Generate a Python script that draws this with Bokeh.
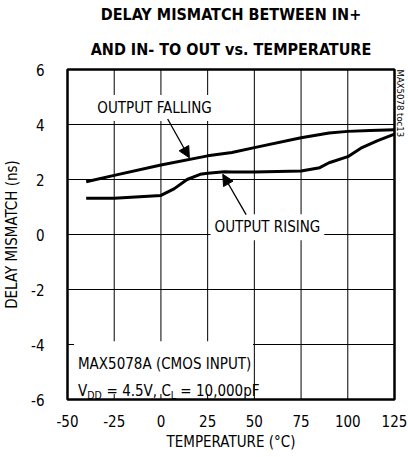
import math
from bokeh.plotting import figure
from bokeh.models import Range1d, FixedTicker, Label, Arrow, NormalHead, BoxAnnotation, Title
from bokeh.embed import file_html
from bokeh.resources import INLINE

# ---- data ----
temp_fall = [-40, -25, 0, 25, 38, 50, 75, 90, 100, 112, 125]
delay_fall = [1.92, 2.15, 2.53, 2.86, 2.98, 3.16, 3.52, 3.69, 3.75, 3.78, 3.81]

temp_rise = [-40, -25, 0, 7, 14, 21, 25, 34, 38, 50, 75, 85, 90, 100, 107, 116, 125]
delay_rise = [1.32, 1.32, 1.42, 1.66, 2.00, 2.19, 2.23, 2.28, 2.27, 2.27, 2.31, 2.43, 2.61, 2.83, 3.14, 3.41, 3.65]

x_ticks = [-50, -25, 0, 25, 50, 75, 100, 125]
y_ticks = [-6, -4, -2, 0, 2, 4, 6]

title_line1 = "DELAY MISMATCH BETWEEN IN+"
title_line2 = "AND IN- TO OUT vs. TEMPERATURE"
x_label = "TEMPERATURE (°C)"
y_label = "DELAY MISMATCH (ns)"
side_code = "MAX5078 toc13"

FONT = "'DejaVu Sans Condensed', 'Liberation Sans'"

X0, X1 = -50, 125
Y0, Y1 = -6, 6

p = figure(frame_width=327, frame_height=330, output_backend="svg", toolbar_location=None,
           x_range=Range1d(X0, X1), y_range=Range1d(Y0, Y1),
           min_border_left=66, min_border_right=14, min_border_bottom=54, min_border_top=68)

# two centred title lines (the later-added title sits closer to the frame)
p.title.text = title_line1
p.title.align = "center"
p.title.text_font = FONT
p.title.text_font_size = "16px"
p.title.text_font_style = "bold"
p.title.text_color = "black"
p.title.standoff = 5
p.add_layout(Title(text=title_line2, align="center", text_font=FONT, text_font_size="16px",
                   text_font_style="bold", text_color="black", standoff=22), "above")

# side reference code in the right margin
p.add_layout(Title(text=side_code, align="left", text_font=FONT, text_font_size="9.5px",
                   text_font_style="normal", text_color="black", standoff=0), "right")

p.outline_line_color = "black"
p.outline_line_width = 2.5
p.outline_line_alpha = 1.0

p.grid.grid_line_color = None

# grid lines drawn from the tick arrays
p.segment(x0=x_ticks, y0=[Y0] * len(x_ticks), x1=x_ticks, y1=[Y1] * len(x_ticks),
          line_color="black", line_width=1)
p.segment(x0=[X0] * len(y_ticks), y0=y_ticks, x1=[X1] * len(y_ticks), y1=y_ticks,
          line_color="black", line_width=1)

p.xaxis.ticker = FixedTicker(ticks=x_ticks)
p.yaxis.ticker = FixedTicker(ticks=y_ticks)
p.xaxis.major_label_overrides = {t: str(t) for t in x_ticks}
p.yaxis.major_label_overrides = {t: str(t) for t in y_ticks}

for ax in (p.xaxis[0], p.yaxis[0]):
    ax.axis_line_color = None
    ax.major_tick_line_color = None
    ax.minor_tick_line_color = None
    ax.major_label_text_font = FONT
    ax.major_label_text_font_size = "15px"
    ax.major_label_text_color = "black"
    ax.axis_label_text_font = FONT
    ax.axis_label_text_font_size = "15px"
    ax.axis_label_text_font_style = "normal"
    ax.axis_label_text_color = "black"

p.xaxis.axis_label = x_label
p.yaxis.axis_label = y_label
p.xaxis.major_label_standoff = 9
p.yaxis.major_label_standoff = 17
p.xaxis.axis_label_standoff = 3
p.yaxis.axis_label_standoff = 7

# curves
p.line(temp_fall, delay_fall, line_color="black", line_width=3)
p.line(temp_rise, delay_rise, line_color="black", line_width=3)

# white box behind the conditions text
p.add_layout(BoxAnnotation(left=-46.5, right=49.3, top=-3.88, bottom=-5.8,
                           fill_color="white", fill_alpha=1.0, line_color=None))

# callouts
p.add_layout(Label(x=-3.4, y=4.6, text="OUTPUT FALLING", text_align="center",
                   text_baseline="middle", text_font=FONT, text_font_size="15px",
                   text_color="black", background_fill_color="white", padding=4))
p.add_layout(Label(x=57.0, y=0.26, text="OUTPUT RISING", text_align="center",
                   text_baseline="middle", text_font=FONT, text_font_size="15px",
                   text_color="black", background_fill_color="white", padding=4))

p.add_layout(Arrow(x_start=3.6, y_start=4.2, x_end=15.2, y_end=2.79, line_width=1.3,
                   line_color="black",
                   end=NormalHead(size=11, fill_color="black", line_color="black")))
p.add_layout(Arrow(x_start=45.6, y_start=0.72, x_end=33.1, y_end=2.19, line_width=1.3,
                   line_color="black",
                   end=NormalHead(size=11, fill_color="black", line_color="black")))

# conditions text
cx = -44.4
common = dict(text_font=FONT, text_color="black", text_baseline="alphabetic", text_align="left")
p.add_layout(Label(x=cx, y=-4.71, text="MAX5078A (CMOS INPUT)", text_font_size="15px", **common))
pieces = [("V", 0, "15px", 0), ("DD", 9.2, "10.5px", -4),
          ("= 4.5V, C", 28.6, "15px", 0), ("L", 92.9, "10.5px", -4),
          ("= 10,000pF", 102.4, "15px", 0)]
for txt, xo, fs, yo in pieces:
    p.add_layout(Label(x=cx, y=-5.68, x_offset=xo, y_offset=yo, text=txt, text_font_size=fs, **common))

open("out.html", "w").write(file_html(p, INLINE))
